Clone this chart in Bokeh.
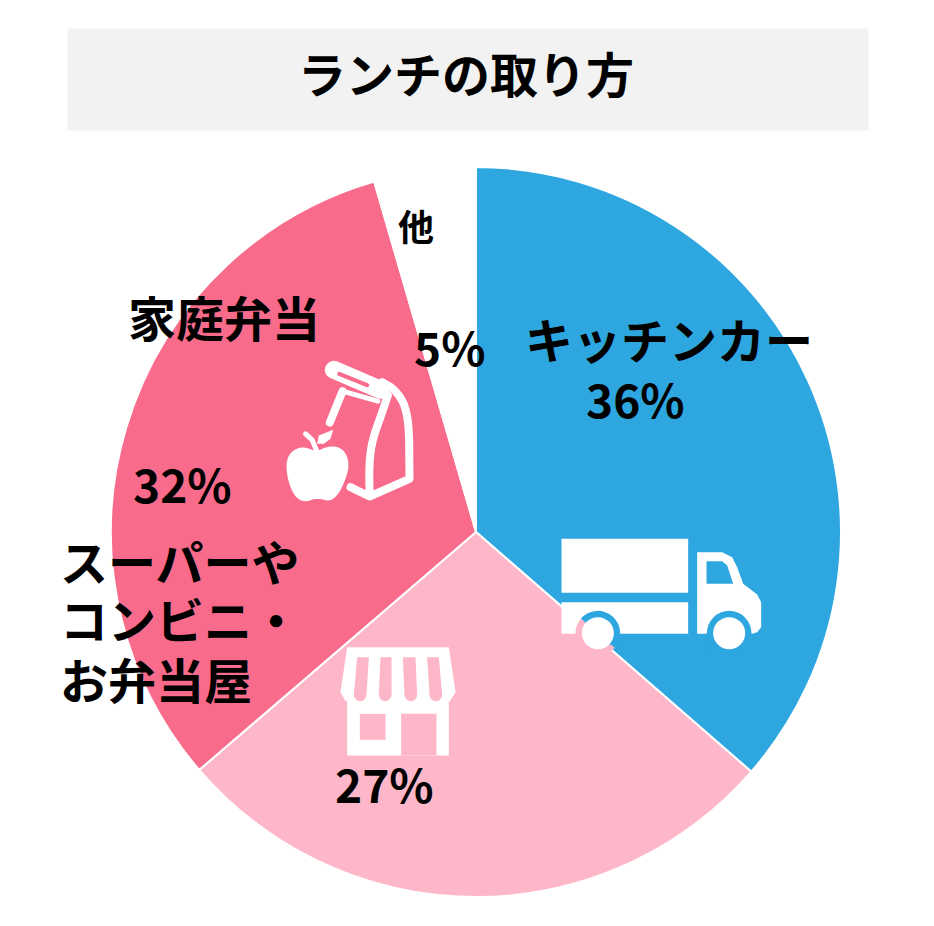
import math
from itertools import accumulate
from bokeh.plotting import figure
from bokeh.models import Range1d
from bokeh.core.properties import value
from bokeh.embed import file_html
from bokeh.resources import INLINE

# --- data ---
title = "ランチの取り方"
categories = ["キッチンカー", "スーパーやコンビニ・お弁当屋", "家庭弁当", "他"]
shares = [36.4, 27.3, 31.8, 4.5]
percent_labels = ["36%", "27%", "32%", "5%"]
colors = ["#2EA7E0", "#FDB7C8", "#F96B8A", "#FFFFFF"]

W, H = 918, 910
FONT = value("Noto Sans CJK JP")
WHITE = "#FFFFFF"
BLUE, LIGHT, DARK = colors[0], colors[1], colors[2]


def Y(py):
    return H - py


p = figure(width=W, height=H, output_backend="svg", toolbar_location=None,
           x_range=Range1d(0, W), y_range=Range1d(0, H),
           min_border=0, outline_line_color=None, background_fill_color=WHITE,
           border_fill_color=WHITE)
p.axis.visible = False
p.grid.visible = False

# title band
p.quad(left=[67], right=[868], top=[Y(28)], bottom=[Y(130)], fill_color="#F2F2F2", line_color=None)

# pie
cx, cy, r = 475.5, Y(531.5), 365
total = sum(shares)
ends = list(accumulate(shares))
starts = [0] + ends[:-1]
to_ang = lambda s: math.pi / 2 - 2 * math.pi * s / total
p.wedge(x=[cx] * 4, y=[cy] * 4, radius=r,
        start_angle=[to_ang(s) for s in starts], end_angle=[to_ang(e) for e in ends],
        direction="clock", fill_color=colors, line_color=WHITE, line_width=2)


# --- icons ---
def smooth(pts, closed=False, rounds=2):
    for _ in range(rounds):
        out = [pts[0]] if not closed else []
        n = len(pts)
        for i in range(n if closed else n - 1):
            (a, b), (c, d) = pts[i], pts[(i + 1) % n]
            out += [(0.75 * a + 0.25 * c, 0.75 * b + 0.25 * d), (0.25 * a + 0.75 * c, 0.25 * b + 0.75 * d)]
        if not closed:
            out.append(pts[-1])
        pts = out
    return pts


def zoomed(pts, ox, oy):
    return [ox + a / 3 for a, _ in pts], [Y(oy + b / 3) for _, b in pts]


def poly(pts, ox, oy, color):
    xs, ys = zoomed(pts, ox, oy)
    p.patch(xs, ys, fill_color=color, line_color=None)


def stroke(pts, ox, oy, color, width):
    xs, ys = zoomed(pts, ox, oy)
    p.line(xs, ys, line_color=color, line_width=width, line_cap="round", line_join="round")


def disc(a, b, ox, oy, rad, color):
    p.circle(x=[ox + a / 3], y=[Y(oy + b / 3)], radius=rad / 3, fill_color=color, line_color=None)


# truck
ox, oy = 540, 520
poly([(63, 55), (443, 55), (443, 217), (63, 217)], ox, oy, WHITE)
poly([(63, 245), (443, 245), (443, 340), (63, 340)], ox, oy, WHITE)
poly([(470, 95), (545, 95), (575, 110), (590, 140), (608, 190), (650, 222), (662, 245),
      (662, 320), (650, 335), (635, 340), (470, 340)], ox, oy, WHITE)
poly([(498, 122), (545, 122), (560, 135), (578, 190), (498, 190)], ox, oy, BLUE)
disc(566, 338, ox, oy, 67, BLUE)
p.quad(left=[ox + 499 / 3], right=[ox + 633 / 3], top=[Y(oy + 340 / 3)], bottom=[Y(oy + 395 / 3)],
       fill_color=BLUE, line_color=None)
disc(566, 338, ox, oy, 48, WHITE)
wx, wy = ox + 172 / 3, Y(oy + 338 / 3)
p.wedge(x=[wx], y=[wy], radius=67 / 3, start_angle=[math.radians(-40.5)], end_angle=[math.radians(139.5)],
        direction="anticlock", fill_color=BLUE, line_color=None)
p.wedge(x=[wx], y=[wy], radius=67 / 3, start_angle=[math.radians(139.5)], end_angle=[math.radians(319.5)],
        direction="anticlock", fill_color=LIGHT, line_color=None)
p.quad(left=[ox + 200 / 3], right=[ox + 240 / 3], top=[Y(oy + 340 / 3)], bottom=[Y(oy + 372 / 3)],
       fill_color=BLUE, line_color=None)
disc(172, 338, ox, oy, 48, WHITE)

# shop
ox, oy = 330, 630
poly([(50, 50), (355, 50), (375, 185), (358, 212), (355, 212), (355, 375), (50, 375),
      (50, 212), (45, 212), (30, 185)], ox, oy, WHITE)
for tl, tr, bl, br in [(80, 115, 70, 108), (150, 183, 145, 183), (217, 255, 222, 260), (290, 325, 297, 335)]:
    poly([(tl, 80), (tr, 80), (br, 193), (bl, 193)], ox, oy, LIGHT)
    disc((bl + br) / 2, 193, ox, oy, (br - bl) / 2, LIGHT)
poly([(88, 250), (165, 250), (165, 328), (88, 328)], ox, oy, LIGHT)
poly([(212, 250), (318, 250), (318, 375), (212, 375)], ox, oy, LIGHT)

# lunch bag and apple
ox, oy = 270, 340
bag_w = 8
stroke([(190, 88), (330, 148)], ox, oy, WHITE, 18)
stroke([(206, 100), (290, 134)], ox, oy, DARK, 4)
curve = smooth([(335, 125), (370, 145), (400, 185), (413, 240), (416, 300)]) + [(417, 415), (297, 468), (240, 440)]
stroke(curve, ox, oy, WHITE, bag_w)
stroke(smooth([(352, 165), (330, 230), (305, 300), (296, 370), (297, 455)]), ox, oy, WHITE, bag_w)
stroke([(216, 152), (178, 246)], ox, oy, WHITE, bag_w)
stroke([(216, 152), (322, 182)], ox, oy, WHITE, 5)
poly(smooth([(140, 332), (170, 318), (205, 318), (228, 340), (236, 375), (226, 415), (205, 460),
             (178, 484), (140, 472), (102, 486), (72, 468), (52, 420), (46, 365), (62, 332),
             (95, 318), (125, 328)], closed=True), ox, oy, WHITE)
stroke([(105, 280), (125, 298), (138, 330)], ox, oy, WHITE, 5)
poly([(140, 310), (145, 285), (188, 268), (180, 295), (160, 310)], ox, oy, WHITE)


# --- texts ---
def label(s, x, y, size):
    p.text(x=[x - 2.5], y=[Y(y - 5)], text=[s], text_font=FONT, text_font_size=f"{size}px",
           text_font_style="bold", text_color="#000000", text_align="left", text_baseline="middle")


label(title, 300, 76, 48)
label(categories[0], 527, 342, 48)
label(percent_labels[0], 588, 402, 46)
label(percent_labels[1], 337, 787, 46)
label(categories[2], 130, 320, 48)
label(percent_labels[2], 135, 487, 46)
label("スーパーや", 62, 564, 48)
label("コンビニ・", 62, 622, 48)
label("お弁当屋", 62, 682, 48)
label(categories[3], 400, 229, 36)
label(percent_labels[3], 416, 350, 46)

open("out.html", "w").write(file_html(p, INLINE))
